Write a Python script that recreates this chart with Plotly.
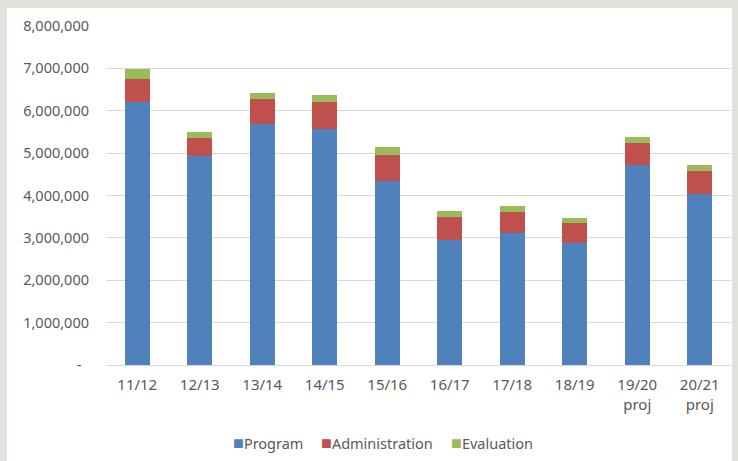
import plotly.graph_objects as go

categories = ["11/12", "12/13", "13/14", "14/15", "15/16", "16/17", "17/18", "18/19", "19/20<br>proj", "20/21<br>proj"]
program = [6210000, 4930000, 5680000, 5580000, 4350000, 2960000, 3120000, 2870000, 4720000, 4030000]
administration = [540000, 420000, 590000, 630000, 600000, 540000, 500000, 490000, 520000, 550000]
evaluation = [240000, 140000, 150000, 160000, 200000, 140000, 140000, 100000, 130000, 140000]
tick_vals = [0, 1000000, 2000000, 3000000, 4000000, 5000000, 6000000, 7000000, 8000000]
tick_text = ["-\u00a0\u00a0", "1,000,000", "2,000,000", "3,000,000", "4,000,000",
             "5,000,000", "6,000,000", "7,000,000", "8,000,000"]
series_names = ["Program", "Administration", "Evaluation"]
series_colors = ["#4f81bd", "#c0504d", "#9bbb59"]

W, H = 738, 461
ML, MR, MT, MB = 106, 7, 26, 96
pw, ph = W - ML - MR, H - MT - MB

def px_x(x):
    return (x - ML) / pw

def px_y(y):
    return (H - MB - y) / ph

fig = go.Figure()
for name, vals, col in zip(series_names, [program, administration, evaluation], series_colors):
    fig.add_trace(go.Bar(x=categories, y=vals, name=name, marker_color=col,
                         marker_line_width=0, showlegend=False))

fig.add_shape(type="rect", xref="paper", yref="paper",
              x0=px_x(7), x1=px_x(732), y0=px_y(8), y1=px_y(466),
              fillcolor="white", line_width=0, layer="below")

# legend drawn as text entries with coloured square markers
legend_left = [231, 319, 449]
for name, col, lx in zip(series_names, series_colors, legend_left):
    fig.add_annotation(xref="paper", yref="paper", x=px_x(lx), y=px_y(442),
                       xanchor="left", yanchor="middle", showarrow=False,
                       text=f'<span style="color:{col};font-size:18px">■</span>{name}',
                       font=dict(family="Noto Sans", size=14.5, color="#595959"))

yfont = dict(family="Noto Sans", size=14.5, color="#595959")
xfont = dict(family="Noto Sans", size=15, color="#595959")
fig.update_layout(
    width=W, height=H,
    margin=dict(l=ML, r=MR, t=MT, b=MB, autoexpand=False),
    paper_bgcolor="#e3e1dc",
    plot_bgcolor="rgba(0,0,0,0)",
    barmode="stack",
    bargap=0.6,
    font=yfont,
    showlegend=False,
    xaxis=dict(showgrid=False, showline=True, linecolor="#d9d9d9", linewidth=1,
               ticks="", tickfont=xfont, fixedrange=True, ticklabelstandoff=6,
               automargin=False),
    yaxis=dict(range=[0, 8000000], tickvals=tick_vals, ticktext=tick_text,
               showgrid=True, gridcolor="#d9d9d9", gridwidth=1, zeroline=False,
               ticks="", tickfont=yfont, ticklabelstandoff=16, automargin=False),
)
fig.write_html("out.html")
